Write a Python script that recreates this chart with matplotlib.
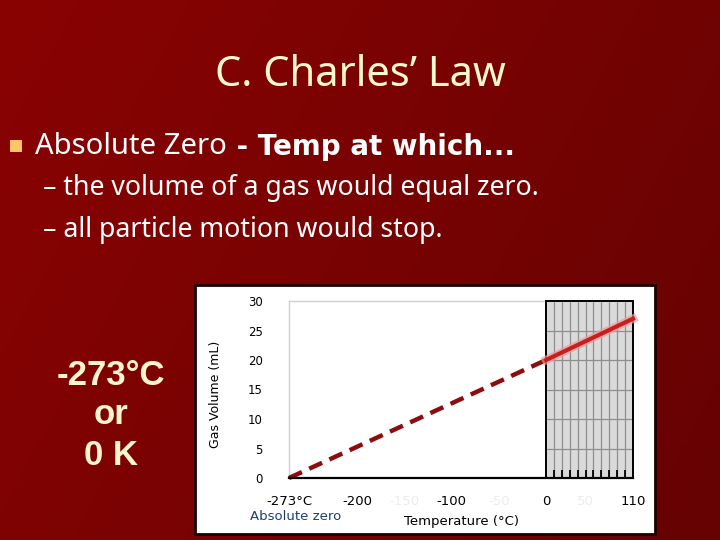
"""Charles' Law slide: extrapolated gas volume down to absolute zero."""
import matplotlib.pyplot as plt
import numpy as np
from matplotlib.patches import Rectangle

W, H = 720, 540

# ---------------------------------------------------------------------------
# Data
# ---------------------------------------------------------------------------
temp_extrap = [-273, 0]          # dashed, extrapolated part
vol_extrap = [0, 20]
temp_measured = [0, 110]         # solid, measured part
vol_measured = [20, 27]

x_ticks = [-273, -200, -100, 0, 110]
x_tick_labels = ["-273°C", "-200", "-100", "0", "110"]
x_ghost_ticks = [-150, -50, 50]
x_ghost_labels = ["-150", "-50", "50"]
y_ticks = [0, 5, 10, 15, 20, 25, 30]
grid_temps = [10, 20, 30, 40, 50, 60, 70, 80, 90, 100]
grid_vols = [5, 10, 15, 20, 25]

title = "C. Charles\u2019 Law"
bullet_plain = "Absolute Zero"
bullet_bold = " - Temp at which..."
sub_bullets = ["\u2013 the volume of a gas would equal zero.",
               "\u2013 all particle motion would stop."]
side_lines = ["-273°C", "or", "0 K"]


def px(x, y):
    """Pixel position (top-left origin) -> figure fraction."""
    return x / W, 1 - y / H


# piecewise x scale: the measured range is drawn a bit compressed
K = 0.84


def fwd(x):
    x = np.asarray(x, dtype=float)
    return np.where(x < 0, x, x * K)


def inv(x):
    x = np.asarray(x, dtype=float)
    return np.where(x < 0, x, x / K)


fig = plt.figure(figsize=(W / 100, H / 100), dpi=100)

# ---------------------------------------------------------------------------
# Slide background
# ---------------------------------------------------------------------------
bg = fig.add_axes([0, 0, 1, 1])
bg.set_axis_off()
xx, yy = np.meshgrid(np.linspace(0, 1, 200), np.linspace(0, 1, 150))
red = 0.54 - 0.10 * xx - 0.04 * yy
grad = np.dstack([red, np.full_like(red, 0.01), np.full_like(red, 0.01)])
bg.imshow(grad, extent=[0, 1, 0, 1], aspect="auto", origin="upper", zorder=0)
bg.set_xlim(0, 1)
bg.set_ylim(0, 1)

# white panel behind the chart
x0, y1 = px(195, 285)
x1, y0 = px(655, 534)
bg.add_patch(Rectangle((x0, y0), x1 - x0, y1 - y0, facecolor="white",
                       edgecolor="#1a0000", lw=2, zorder=1))

# title
bg.text(*px(360, 86), title, ha="center", va="baseline", fontsize=30,
        family="Noto Sans", color="#fff8cc")

# first-level bullet
bx, by = px(10, 152)
bg.add_patch(Rectangle((bx, by), 12 / W, 12 / H, facecolor="#ffc466",
                       edgecolor="none", zorder=2))
t_plain = bg.text(*px(35, 154), bullet_plain, ha="left", va="baseline",
                  fontsize=21, family="Noto Sans", color="white")
bg.annotate(bullet_bold, xy=(1, 0), xycoords=t_plain, ha="left",
            va="bottom", fontsize=20, family="DejaVu Sans",
            fontweight="bold", color="white")

# second-level bullets
for text, ybase in zip(sub_bullets, [195, 237]):
    bg.text(*px(43, ybase), text, ha="left", va="baseline", fontsize=19.2,
            family="Noto Sans", color="white")

# side note
for text, ybase in zip(side_lines, [385, 424, 465]):
    bg.text(*px(111, ybase), text, ha="center", va="baseline", fontsize=25,
            family="Liberation Sans", fontweight="bold", color="#fff5cc")

# ---------------------------------------------------------------------------
# Chart
# ---------------------------------------------------------------------------
ax = fig.add_axes([289 / W, 1 - 478 / H, 344 / W, 177 / H])
ax.set_xscale("function", functions=(fwd, inv))
ax.set_xlim(-273, 110)
ax.set_ylim(0, 30)
ax.set_facecolor("white")

# measured region: grey box with grid
ax.axvspan(0, 110, facecolor="#dadada", edgecolor="none", zorder=0)
ax.vlines(grid_temps, 0, 30, color="#8e8e8e", lw=0.9, zorder=1)
ax.hlines(grid_vols, 0, 110, color="#8e8e8e", lw=0.9, zorder=1)
ax.vlines(grid_temps, 0, 1.3, color="black", lw=1.3, zorder=2)
ax.add_patch(Rectangle((0, 0), 110, 30, fill=False, edgecolor="black",
                       lw=1.4, zorder=3, clip_on=False))

# the line
ax.plot(temp_extrap, vol_extrap, color="#8b0d0d", lw=3.2,
        dashes=(3.2, 1.8), dash_capstyle="butt", zorder=4, clip_on=False)
ax.plot(temp_measured, vol_measured, color="#f29a9a", lw=6, alpha=0.7,
        zorder=4, clip_on=False)
ax.plot(temp_measured, vol_measured, color="#c81e1e", lw=3, zorder=5,
        clip_on=False)

# spines
for side in ["left", "top"]:
    ax.spines[side].set_color("#d0d0d0")
    ax.spines[side].set_linewidth(1)
ax.spines["right"].set_visible(False)
ax.spines["bottom"].set_color("black")
ax.spines["bottom"].set_linewidth(1.6)
ax.spines["bottom"].set_zorder(6)

# ticks
ax.set_xticks(x_ticks, x_tick_labels)
ax.set_xticks(x_ghost_ticks, x_ghost_labels, minor=True)
ax.tick_params(axis="x", which="both", length=0, pad=12, labelsize=9.5)
ax.tick_params(axis="x", which="minor", labelcolor="#ececec")
ax.set_yticks(y_ticks)
ax.tick_params(axis="y", length=0, pad=19, labelsize=8.5)

ax.set_xlabel("Temperature (°C)", fontsize=9.5, va="center")
ax.xaxis.set_label_coords(0.5, -43 / 177)
ax.set_ylabel("Gas Volume (mL)", fontsize=9, va="center")
ax.yaxis.set_label_coords(-74 / 344, 0.475)

ax.annotate("Absolute zero", xy=(-273, 0), xycoords="data",
            xytext=(5, -28), textcoords="offset points", ha="center",
            va="center", fontsize=9.5, color="#1f3d73")

fig.savefig("out.png", dpi=100)
